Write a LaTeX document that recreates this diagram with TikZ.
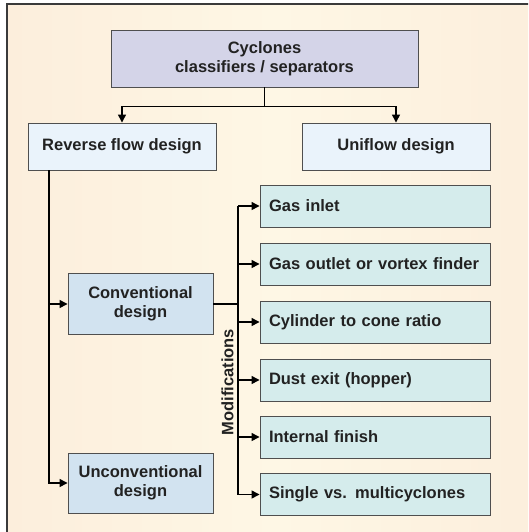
\documentclass[tikz,border=0pt]{standalone}
\usepackage{fontspec}
\setmainfont{Liberation Sans}
\usetikzlibrary{arrows.meta}

\definecolor{bgedge}{HTML}{FCEEDC}
\definecolor{bgmid}{HTML}{FEF7E5}
\definecolor{framegray}{HTML}{3A3A3A}
\definecolor{boxline}{HTML}{4F4F4F}
\definecolor{txtgray}{HTML}{222222}
\definecolor{topfill}{HTML}{D4D4E8}
\definecolor{designfill}{HTML}{EAF3FB}
\definecolor{typefill}{HTML}{D2E3F0}
\definecolor{modfill}{HTML}{D5ECEC}

\begin{document}
\begin{tikzpicture}[x=1pt,y=-1pt,
   every node/.style={font=\fontsize{16.5}{19.5}\selectfont\bfseries,text=txtgray},
   box/.style={draw=boxline,line width=0.9pt,align=center,inner sep=0pt},
   modbox/.style={box,fill=modfill,minimum width=230,minimum height=42,
      text width=212,align=left},
   conn/.style={draw=black,line width=1.3pt},
   arr/.style={conn,-{Triangle[length=8pt,width=8pt]}}]
\useasboundingbox (0,0) rectangle (528,532);
\clip (0,0) rectangle (528,532);
% frame
\shade[left color=bgedge,right color=bgedge,middle color=bgmid] (7,4) rectangle (545,550);
\draw[framegray,line width=1.3pt] (7,4) rectangle (545,550);

% nodes
\node[box,fill=topfill,minimum width=307,minimum height=57] (cyc) at (264.5,58.5)
   {Cyclones\\classifiers / separators};
\node[box,fill=designfill,minimum width=188,minimum height=47] (rev) at (122,146.5)
   {Reverse flow design};
\node[box,fill=designfill,minimum width=188,minimum height=47] (uni) at (396,146.5)
   {Uniflow design};
\node[box,fill=typefill,minimum width=145,minimum height=61] (conv) at (140.5,304)
   {Conventional\\design};
\node[box,fill=typefill,minimum width=145,minimum height=60] (unconv) at (140.5,483)
   {Unconventional\\design};
\foreach \y/\t [count=\i] in {206/Gas inlet,264/Gas outlet or vortex finder,
      322/Cylinder to cone ratio,380/Dust exit (hopper),437/Internal finish,
      494.5/Single vs. multicyclones}
   \node[modbox] (m\i) at (375,\y) {\t};
\coordinate (trunk) at (238,304);
\node[rotate=90] (modlbl) at (227.5,382) {Modifications};

% connectors
\draw[arr] (cyc.south) -- ++(0,19) -| (rev.north);
\draw[arr] (cyc.south) ++(0,19) -| (uni.north);
\draw[arr] ([xshift=-73pt]rev.south) |- (conv.west);
\draw[arr] ([xshift=-73pt]rev.south) |- (unconv.west);
\draw[black,line width=2.2pt] (conv.east) -- (trunk);
\draw[conn] (trunk |- m1.west) -- (trunk |- m6.west);
\foreach \i in {1,...,6}
   \draw[arr] (trunk |- m\i.west) -- (m\i.west);
\end{tikzpicture}
\end{document}
